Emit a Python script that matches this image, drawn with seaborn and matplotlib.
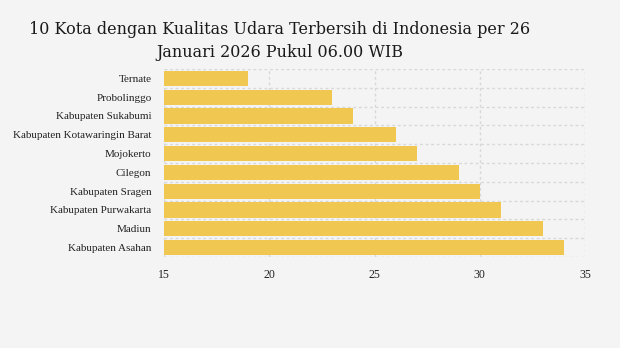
import matplotlib
matplotlib.use("Agg")
import matplotlib.pyplot as plt
import seaborn as sns
import pandas as pd
from matplotlib.ticker import MultipleLocator, FixedLocator

cities = ["Ternate", "Probolinggo", "Kabupaten Sukabumi", "Kabupaten Kotawaringin Barat",
          "Mojokerto", "Cilegon", "Kabupaten Sragen", "Kabupaten Purwakarta", "Madiun",
          "Kabupaten Asahan"]
values = [19, 23, 24, 26, 27, 29, 30, 31, 33, 34]
title = "10 Kota dengan Kualitas Udara Terbersih di Indonesia per 26\nJanuari 2026 Pukul 06.00 WIB"

df = pd.DataFrame({"kota": cities, "nilai": values})

sns.set_theme(style="white")
bg = "#F4F4F4"
fig = plt.figure(figsize=(6.2, 3.48), dpi=100, facecolor=bg)
ax = fig.add_axes([164/620, 1-257/348, (585-164)/620, (257-69)/348])
ax.set_facecolor(bg)

sns.barplot(data=df, x="nilai", y="kota", orient="h", color="#F0C750", saturation=1,
            width=0.8, ax=ax, zorder=2, linewidth=0)

ax.set_xlim(15, 35)
ax.set_ylim(9.5, -0.5)
ax.xaxis.set_major_locator(MultipleLocator(5))
ax.yaxis.set_minor_locator(FixedLocator([i - 0.5 for i in range(11)]))
ax.grid(axis="x", which="major", color="#D8D8D8", linestyle=(0, (2, 2)), linewidth=1, zorder=0)
ax.grid(axis="y", which="minor", color="#D8D8D8", linestyle=(0, (2, 2)), linewidth=1, zorder=0)
ax.grid(axis="y", which="major", visible=False)
ax.set_axisbelow(True)
for s in ax.spines.values():
    s.set_visible(False)
ax.set_xlabel("")
ax.set_ylabel("")
ax.tick_params(axis="y", which="major", length=4, color="#D8D8D8", pad=5, labelsize=8)
ax.tick_params(axis="y", which="minor", length=0)
ax.tick_params(axis="x", length=0, pad=9, labelsize=8.5)
for lab in ax.get_yticklabels() + ax.get_xticklabels():
    lab.set_fontfamily("Liberation Serif")
    lab.set_color("#222222")

fig.text(280/620, 1-41/348, title, ha="center", va="center", fontsize=11.5,
         family="DejaVu Serif", color="#1a1a1a", linespacing=1.45)

fig.savefig("out.png", dpi=100, facecolor=bg)
